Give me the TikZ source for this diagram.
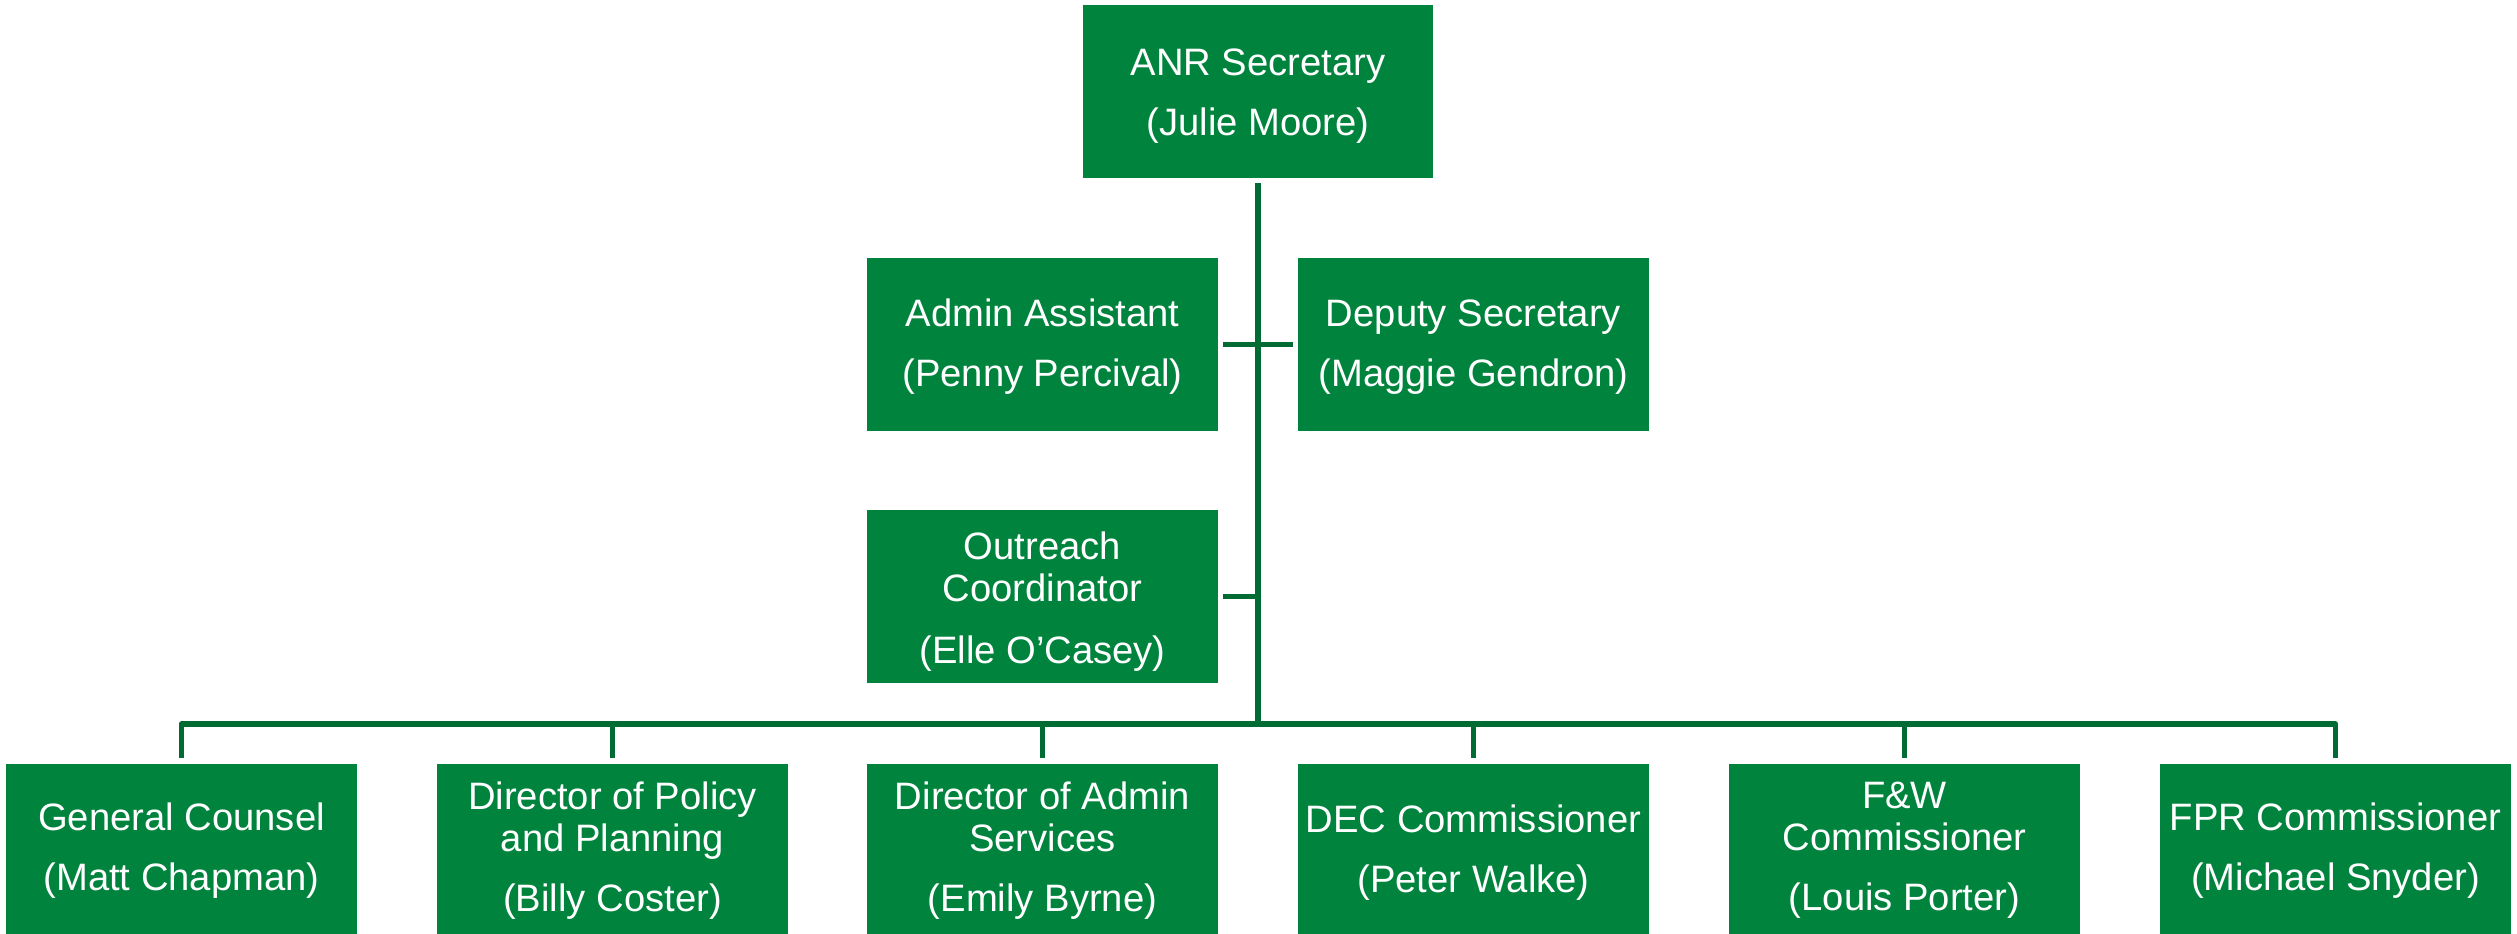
\documentclass[tikz,border=0pt]{standalone}
\usepackage{fontspec}
\setmainfont{Liberation Sans}
\definecolor{boxgreen}{RGB}{0,132,61}
\definecolor{linegreen}{RGB}{0,107,51}
\tikzset{
  orgbox/.style={rectangle, fill=boxgreen, text=white, draw=none,
    minimum width=351pt, minimum height=173pt, inner sep=0pt, align=center,
    font=\fontsize{38.2pt}{60pt}\selectfont},
  threeline/.style={font=\fontsize{38.2pt}{42pt}\selectfont},
  conn/.style={draw=linegreen, line width=5.5pt, line join=round}
}
\begin{document}
\begin{tikzpicture}[x=1pt,y=-1pt]
\useasboundingbox (0,0) rectangle (2517,934);
\fill[white] (0,0) rectangle (2517,934);

\node[orgbox, minimum width=350pt] (anr) at (1258,91.5) {\rule{0pt}{36pt}ANR Secretary\\(Julie Moore)};
\node[orgbox] (admin) at (1042.5,344.5) {\rule{0pt}{31pt}Admin Assistant\\(Penny Percival)};
\node[orgbox] (deputy) at (1473.5,344.5) {\rule{0pt}{31pt}Deputy Secretary\\(Maggie Gendron)};
\node[orgbox, threeline] (outreach) at (1042.5,596.5) {\rule{0pt}{38pt}Outreach\\Coordinator\\[20pt](Elle O’Casey)};

\node[orgbox] (gc) at (181.5,850.5) {General Counsel\\(Matt Chapman)};
\node[orgbox, threeline] (dp) at (612.5,850.5) {Director of Policy\\and Planning\\[18pt](Billy Coster)};
\node[orgbox, threeline] (da) at (1042.5,850.5) {Director of Admin\\Services\\[18pt](Emily Byrne)};
\node[orgbox] (dec) at (1473.5,850.5) {\rule{0pt}{31pt}DEC Commissioner\\(Peter Walke)};
\node[orgbox, threeline] (fw) at (1904.5,850.5) {F\&W\\Commissioner\\[18pt](Louis Porter)};
\node[orgbox] (fpr) at (2335.5,850.5) {FPR Commissioner\\(Michael Snyder)};

\coordinate (hub) at (1258,724);

\draw[conn] ([yshift=-5pt]anr.south) -- (hub);
\draw[conn] ([xshift=5pt]admin.east) -- ([xshift=-5pt]deputy.west);
\draw[conn] ([xshift=5pt]outreach.east) -- (outreach.east -| hub);
\draw[conn] ([yshift=6pt]gc.north) |- (hub) -| ([yshift=6pt]fpr.north);
\draw[conn] ([yshift=6pt]dp.north) -- (dp.north |- hub);
\draw[conn] ([yshift=6pt]da.north) -- (da.north |- hub);
\draw[conn] ([yshift=6pt]dec.north) -- (dec.north |- hub);
\draw[conn] ([yshift=6pt]fw.north) -- (fw.north |- hub);
\end{tikzpicture}
\end{document}
